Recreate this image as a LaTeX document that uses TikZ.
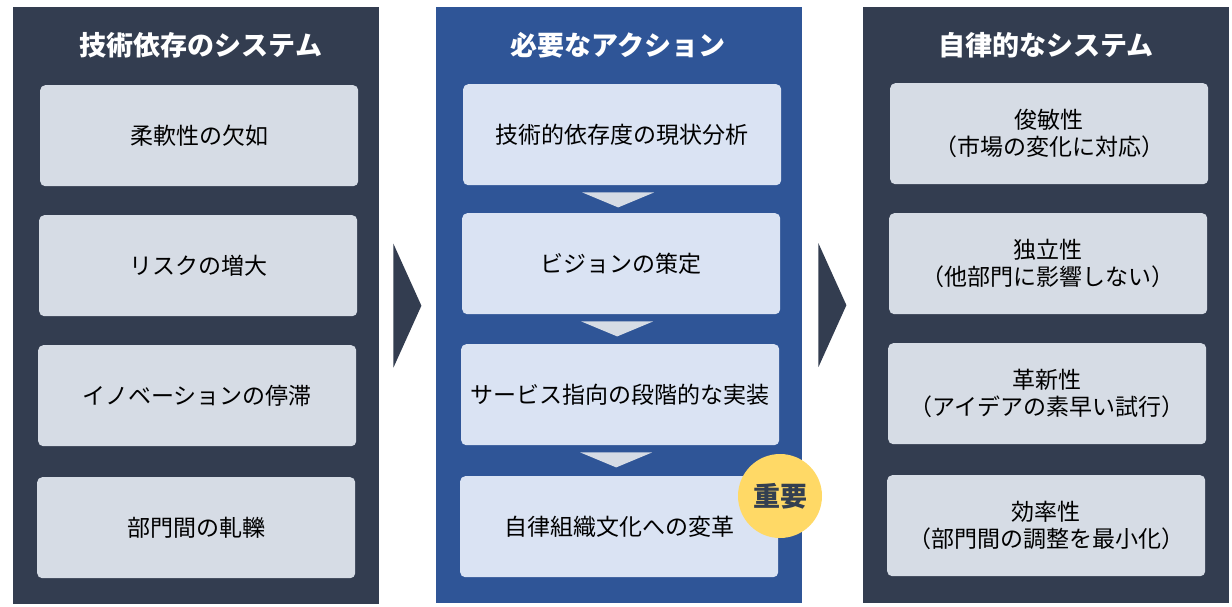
\documentclass[tikz,border=0pt]{standalone}
\usepackage{fontspec}
\setmainfont{Noto Sans CJK JP}
\usetikzlibrary{calc}
\definecolor{panelDark}{HTML}{333D50}
\definecolor{panelBlue}{HTML}{2F5597}
\definecolor{boxGray}{HTML}{D6DCE5}
\definecolor{boxBlue}{HTML}{DAE3F3}
\definecolor{badgeYellow}{HTML}{FFD966}
\definecolor{badgeText}{HTML}{333F50}
\tikzset{
  panel/.style={anchor=north west, inner sep=0pt, minimum width=366pt, minimum height=597pt},
  ptitle/.style={text=white, font=\fontsize{27pt}{32pt}\selectfont\bfseries, inner sep=0pt},
  itembox/.style={anchor=north west, rounded corners=5pt, inner sep=0pt, minimum width=318pt, minimum height=101pt, align=center, text=black, font=\fontsize{23pt}{27pt}\selectfont},
  graybox/.style={itembox, fill=boxGray},
  bluebox/.style={itembox, fill=boxBlue},
  chev/.style={fill=boxGray, draw=none},
  bigarrow/.style={fill=panelDark, draw=none}
}
\begin{document}
\begin{tikzpicture}[x=1pt,y=-1pt]
\useasboundingbox (0,0) rectangle (1232,607);
% panels
\node[panel, fill=panelDark] (PL) at (13,7) {};
\node[panel, fill=panelBlue, minimum height=596pt] (PM) at (436,7) {};
\node[panel, fill=panelDark, minimum height=596pt] (PR) at (863,7) {};
% titles
\node[ptitle] (TL) at (201,45) {技術依存のシステム};
\node[ptitle] (TM) at (618,45) {必要なアクション};
\node[ptitle] (TR) at (1046,45) {自律的なシステム};
% left boxes
\node[graybox] (L1) at (40,85) {柔軟性の欠如};
\node[graybox] (L2) at (39,215) {リスクの増大};
\node[graybox] (L3) at (38,345) {イノベーションの停滞};
\node[graybox] (L4) at (37,477) {部門間の軋轢};
% middle boxes
\node[bluebox] (M1) at (463,84) {技術的依存度の現状分析};
\node[bluebox] (M2) at (462,213) {ビジョンの策定};
\node[bluebox] (M3) at (461,344) {サービス指向の段階的な実装};
\node[bluebox] (M4) at (460,476) {自律組織文化への変革};
% small chevrons
\foreach \a in {M1,M2,M3}{
  \fill[chev] ($(\a.south)+(-40,7)$) -- ($(\a.south)+(32,7)$) -- ($(\a.south)+(-4,22)$) -- cycle;
}
% badge
\node[circle, fill=badgeYellow, minimum size=84pt, inner sep=0pt, text=badgeText, font=\fontsize{27pt}{32pt}\selectfont\bfseries] (BD) at (780,496) {重要};
% right boxes
\node[graybox] (R1) at (890,83) {俊敏性\\（市場の変化に対応）};
\node[graybox] (R2) at (889,213) {独立性\\（他部門に影響しない）};
\node[graybox] (R3) at (888,343) {革新性\\（アイデアの素早い試行）};
\node[graybox] (R4) at (887,475) {効率性\\（部門間の調整を最小化）};
% big arrows
\fill[bigarrow] ($(PL.east)+(14,-62)$) -- ($(PL.east)+(42,0)$) -- ($(PL.east)+(14,62)$) -- cycle;
\fill[bigarrow] ($(PM.east)+(16,-62)$) -- ($(PM.east)+(44,0)$) -- ($(PM.east)+(16,62)$) -- cycle;
\end{tikzpicture}
\end{document}
